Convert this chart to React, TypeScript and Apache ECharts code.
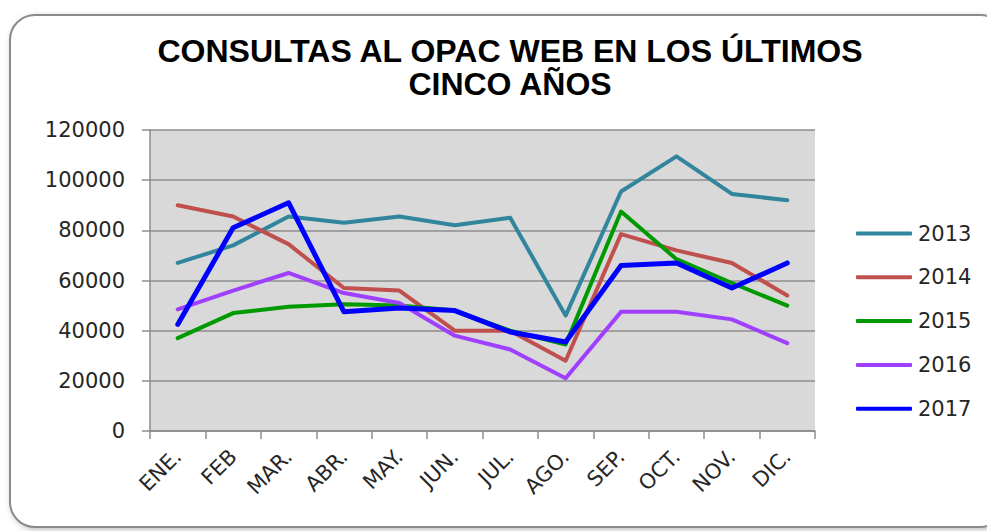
import React, { useEffect, useRef } from "react";
import * as echarts from "echarts";

const months = ["ENE.", "FEB", "MAR.", "ABR.", "MAY.", "JUN.", "JUL.", "AGO.", "SEP.", "OCT.", "NOV.", "DIC."];
const years = ["2013", "2014", "2015", "2016", "2017"];
const v2013 = [67000, 74000, 85500, 83000, 85500, 82000, 85000, 46000, 95500, 109500, 94500, 92000];
const v2014 = [90000, 85500, 74500, 57000, 56000, 40000, 40000, 28000, 78500, 72000, 67000, 54000];
const v2015 = [37000, 47000, 49500, 50500, 50000, 48000, 40000, 34500, 87500, 68500, 59000, 50000];
const v2016 = [48500, 56000, 63000, 55000, 51000, 38000, 32500, 21000, 47500, 47500, 44500, 35000];
const v2017 = [42500, 81000, 91000, 47500, 49000, 48000, 39500, 35500, 66000, 67000, 57000, 67000];
const colors = ["#31859C", "#C0504D", "#009A00", "#A040FF", "#0000FF"];
const title = "CONSULTAS AL OPAC WEB EN LOS ÚLTIMOS\nCINCO AÑOS";

export default function App() {
  const ref = useRef<HTMLDivElement>(null);
  useEffect(() => {
    if (!ref.current) return;
    const chart = echarts.init(ref.current, null, { renderer: "svg" });
    const values = [v2013, v2014, v2015, v2016, v2017];
    chart.setOption({
      animation: false,
      backgroundColor: "#ffffff",
      graphic: [
        {
          type: "rect",
          shape: { x: 10, y: 15, width: 995, height: 512, r: 25 },
          style: {
            fill: "#ffffff",
            stroke: "#8a8a8a",
            lineWidth: 2,
            shadowBlur: 6,
            shadowColor: "rgba(0,0,0,0.25)",
            shadowOffsetX: 2,
            shadowOffsetY: 2,
          },
          z: -10,
          silent: true,
        },
      ],
      title: {
        text: title,
        left: 505,
        textAlign: "center",
        top: 29,
        textStyle: {
          fontFamily: "Liberation Sans",
          fontWeight: "bold",
          fontSize: 32,
          lineHeight: 33,
          color: "#000000",
        },
      },
      legend: {
        orient: "vertical",
        left: 856,
        top: 223,
        padding: 0,
        icon: "roundRect",
        itemWidth: 56,
        itemHeight: 4,
        itemGap: 22.8,
        data: years,
        textStyle: {
          fontFamily: "DejaVu Sans",
          fontSize: 21,
          color: "#262626",
          padding: [0, 0, 0, 1],
        },
      },
      grid: {
        left: 150,
        top: 130,
        width: 665,
        height: 301,
        show: true,
        backgroundColor: "#d9d9d9",
        borderWidth: 0,
      },
      xAxis: {
        type: "category",
        data: months,
        boundaryGap: true,
        axisLine: { show: true, lineStyle: { color: "#8c8c8c", width: 1.5 } },
        axisTick: { show: true, length: 8, lineStyle: { color: "#8c8c8c", width: 1.5 } },
        axisLabel: {
          rotate: 45,
          margin: 22,
          fontFamily: "DejaVu Sans",
          fontSize: 21,
          color: "#262626",
        },
      },
      yAxis: {
        type: "value",
        min: 0,
        max: 120000,
        interval: 20000,
        axisLine: { show: true, lineStyle: { color: "#8c8c8c", width: 1.5 } },
        axisTick: { show: true, length: 8, lineStyle: { color: "#8c8c8c", width: 1.5 } },
        splitLine: { show: true, lineStyle: { color: "#8c8c8c", width: 1.5 } },
        axisLabel: {
          margin: 25,
          fontFamily: "DejaVu Sans",
          fontSize: 21,
          color: "#262626",
          formatter: (v: number) => String(v),
        },
      },
      series: years.map((y, i) => ({
        name: y,
        type: "line",
        data: values[i],
        symbol: "none",
        color: colors[i],
        lineStyle: { color: colors[i], width: i === 4 ? 5 : 4, cap: "round", join: "round" },
      })),
    });
    return () => chart.dispose();
  }, []);
  return (
    <div
      ref={ref}
      style={{ position: "fixed", left: 0, top: 0, width: 987, height: 531 }}
    />
  );
}
